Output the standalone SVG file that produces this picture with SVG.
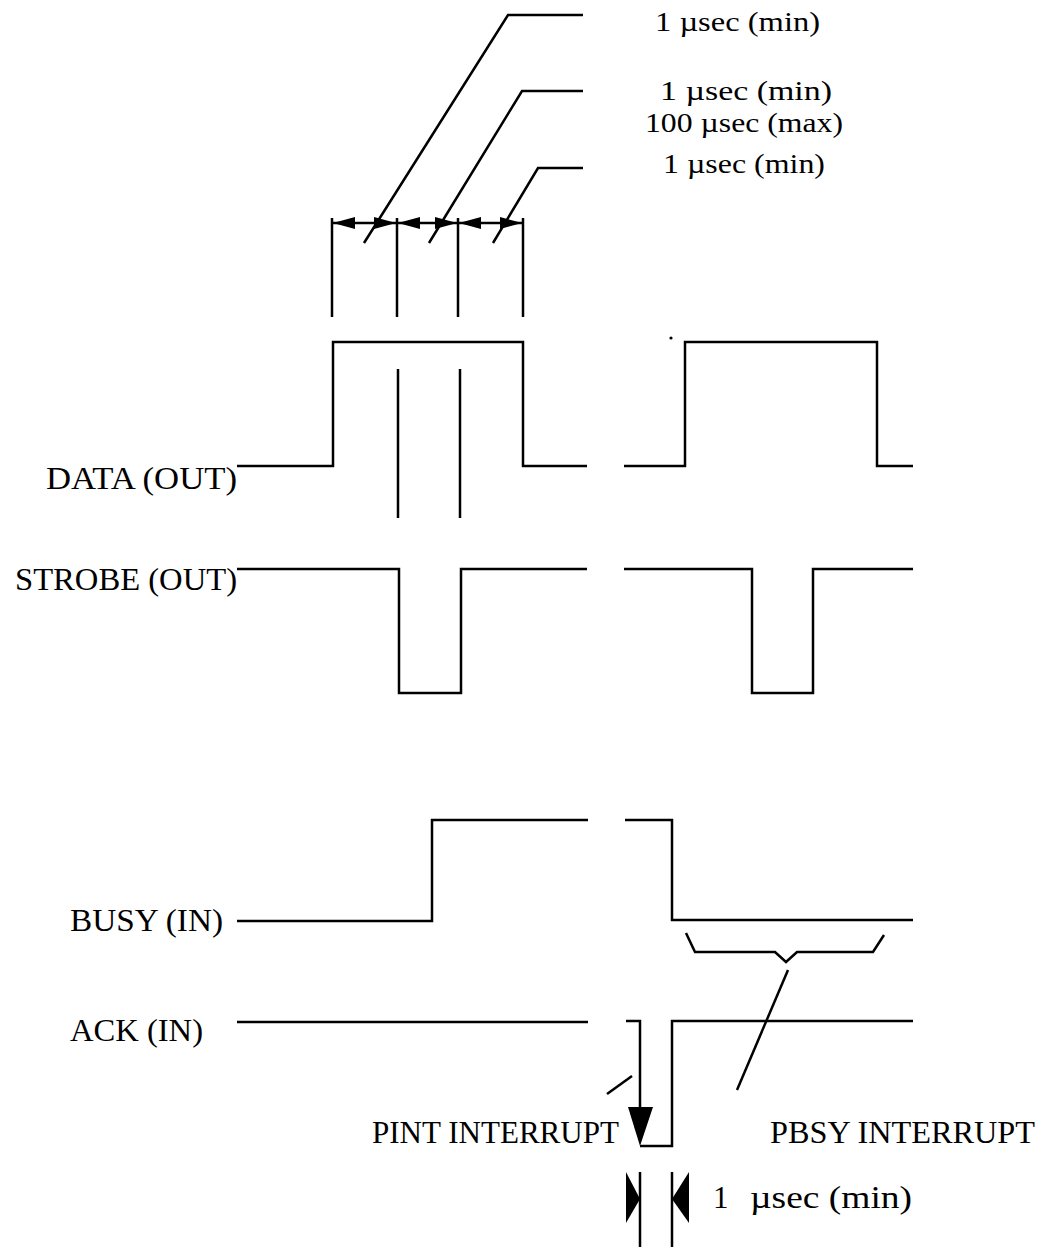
<svg xmlns="http://www.w3.org/2000/svg" width="1056" height="1247" viewBox="0 0 1056 1247">
<style>
.w{fill:none;stroke:#000;stroke-width:2.5;stroke-linejoin:miter;stroke-linecap:butt}
.t{font-family:"Liberation Serif","Times New Roman",serif;font-size:31px;fill:#000}
.s{font-size:28px}
.f{fill:#000;stroke:none}
</style>
<defs>
<marker id="ah" markerUnits="userSpaceOnUse" markerWidth="23" markerHeight="13" refX="22" refY="6" orient="auto-start-reverse" viewBox="0 0 23 13">
<path d="M0,0 L22,6 L0,12 Z" fill="#000"/>
</marker>
</defs>
<rect width="1056" height="1247" fill="#fff"/>

<g id="timing-dims">
<path class="w" d="M332,218 V317 M397,218 V317 M458,218 V317 M523,218 V317"/>
<line class="w" x1="333" y1="223" x2="396" y2="223" marker-start="url(#ah)" marker-end="url(#ah)"/>
<line class="w" x1="398" y1="223" x2="457" y2="223" marker-start="url(#ah)" marker-end="url(#ah)"/>
<line class="w" x1="459" y1="223" x2="522" y2="223" marker-start="url(#ah)" marker-end="url(#ah)"/>
</g>

<g id="connectors">
<path class="w" d="M583,15 H508 L364,243"/>
<path class="w" d="M583,91 H522 L429,243"/>
<path class="w" d="M583,168 H538 L493,243"/>
<path class="w" d="M398,369 V518 M460,369 V518"/>
<path class="w" d="M686,933 L695,952 H775 L786,962 L797,952 H873 L884,935"/>
<path class="w" d="M788,970 L737,1090"/>
<path class="w" d="M607,1094 L632,1076"/>
</g>

<g id="top-labels">
<text class="t s" x="655" y="31" textLength="165" lengthAdjust="spacingAndGlyphs">1 µsec (min)</text>
<text class="t s" x="660" y="100" textLength="172" lengthAdjust="spacingAndGlyphs">1 µsec (min)</text>
<text class="t s" x="645" y="132" textLength="198" lengthAdjust="spacingAndGlyphs">100 µsec (max)</text>
<text class="t s" x="663" y="173" textLength="162" lengthAdjust="spacingAndGlyphs">1 µsec (min)</text>
</g>

<g id="data-out">
<text class="t" x="46" y="489" textLength="191" lengthAdjust="spacingAndGlyphs">DATA (OUT)</text>
<path class="w" d="M237,466 H333 V342 H523 V466 H587"/>
<path class="w" d="M624,466 H685 V342 H877 V466 H913"/>
<circle class="f" cx="671" cy="338" r="1.6"/>
</g>

<g id="strobe-out">
<text class="t" x="15" y="590" textLength="222" lengthAdjust="spacingAndGlyphs">STROBE (OUT)</text>
<path class="w" d="M237,569 H399 V693 H461 V569 H587"/>
<path class="w" d="M624,569 H752 V693 H813 V569 H913"/>
</g>

<g id="busy-in">
<text class="t" x="70" y="931" textLength="153" lengthAdjust="spacingAndGlyphs">BUSY (IN)</text>
<path class="w" d="M237,921 H432 V820 H588"/>
<path class="w" d="M625,820 H672 V920 H913"/>
</g>

<g id="ack-in">
<text class="t" x="70" y="1041" textLength="133" lengthAdjust="spacingAndGlyphs">ACK (IN)</text>
<path class="w" d="M237,1022 H588"/>
<path class="w" d="M626,1021 H640 V1108"/>
<polygon class="f" points="628,1107 653,1107 640,1146"/>
<path class="w" d="M640,1146 H672 V1021 H913"/>
</g>

<g id="pint-label">
<text class="t" x="372" y="1143" textLength="247" lengthAdjust="spacingAndGlyphs">PINT INTERRUPT</text>
</g>

<g id="pbsy-label">
<text class="t" x="770" y="1143" textLength="265" lengthAdjust="spacingAndGlyphs">PBSY INTERRUPT</text>
</g>

<g id="ack-width">
<path class="w" d="M640,1172 V1247 M672,1172 V1247"/>
<polygon class="f" points="626,1172 640,1199 626,1223"/>
<polygon class="f" points="689,1172 672,1199 689,1223"/>
<text class="t" x="713" y="1208">1</text>
<text class="t" x="750" y="1208" textLength="162" lengthAdjust="spacingAndGlyphs">µsec (min)</text>
</g>
</svg>
